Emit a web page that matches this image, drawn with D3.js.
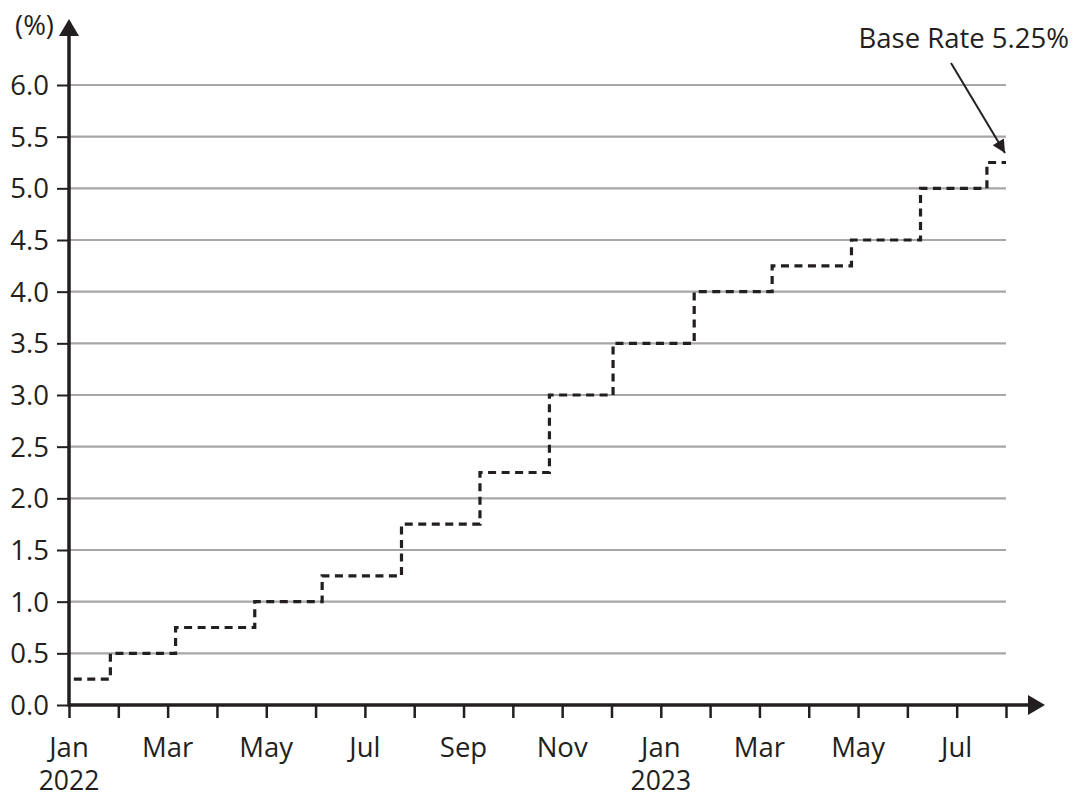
<!DOCTYPE html>
<html>
<head>
<meta charset="utf-8">
<script src="https://cdn.jsdelivr.net/npm/d3@7"></script>
<style>
  body { margin: 0; background: #fff; }
  svg text { font-family: "Open Sans", "Noto Sans", sans-serif; fill: #231f20; }
</style>
</head>
<body>
<div id="svg-container"></div>
<script>
////////////////////////////  Data  ////////////////////////////

// dates when the rate changed, and the rate after each change (%)
const changeDates = [
  "2022-01-04", "2022-01-27", "2022-03-06", "2022-04-24", "2022-06-05",
  "2022-07-24", "2022-09-11", "2022-10-24", "2022-12-02", "2023-01-22",
  "2023-03-09", "2023-04-27", "2023-06-09", "2023-07-20"
];
const rates = [0.25, 0.5, 0.75, 1.0, 1.25, 1.75, 2.25, 3.0, 3.5, 4.0, 4.25, 4.5, 5.0, 5.25];
const endDate = "2023-08-01";

const yTicks = [0, 0.5, 1, 1.5, 2, 2.5, 3, 3.5, 4, 4.5, 5, 5.5, 6];
const monthNames = ["Jan", "Feb", "Mar", "Apr", "May", "Jun", "Jul", "Aug", "Sep", "Oct", "Nov", "Dec"];
const nMonths = 20; // Jan 2022 .. Aug 2023

const annotation = "Base Rate 5.25%";

////////////////////////////  Init  ////////////////////////////

const width = 1076, height = 798;
const ink = "#231f20";
const gridColor = "#a7a7a9";
const fontSize = 27.5;

const svg = d3.select("#svg-container").append("svg")
  .attr("width", width).attr("height", height);

// month index: months since Jan 2022, fractional inside the month
const toMonth = (s) => {
  const d = new Date(s + "T00:00:00");
  const y = d.getFullYear(), m = d.getMonth();
  const days = new Date(y, m + 1, 0).getDate();
  return (y - 2022) * 12 + m + (d.getDate() - 1) / days;
};

const x = d3.scaleLinear().domain([0, 19]).range([69, 1006]);
const y = d3.scaleLinear().domain([0, 6]).range([705, 85]);

// grid
svg.append("g")
  .selectAll("line")
  .data(yTicks.filter((d) => d > 0))
  .join("line")
  .attr("x1", x(0)).attr("x2", x(19))
  .attr("y1", (d) => y(d)).attr("y2", (d) => y(d))
  .attr("stroke", gridColor)
  .attr("stroke-width", 2.2);

// y axis
const yAxis = svg.append("g")
  .attr("transform", `translate(${x(0)},0)`)
  .call(d3.axisLeft(y).tickValues(yTicks).tickSize(12).tickPadding(8).tickFormat(d3.format(".1f")));
yAxis.select(".domain").remove();
yAxis.selectAll(".tick line").attr("stroke", ink).attr("stroke-width", 2);
yAxis.selectAll(".tick text").attr("font-size", fontSize).attr("dy", "0.34em")
  .attr("font-family", "Open Sans").attr("fill", ink);

// x axis
const monthTicks = d3.range(nMonths);
const xAxis = svg.append("g")
  .attr("transform", `translate(0,${y(0)})`)
  .call(d3.axisBottom(x).tickValues(monthTicks).tickSize(13).tickFormat(""));
xAxis.select(".domain").remove();
xAxis.selectAll(".tick line").attr("stroke", ink).attr("stroke-width", 2.5);

// month labels every second month; January also carries the year on a second line
const labelMonths = monthTicks.filter((m) => m % 2 === 0);
const monthLabels = svg.append("g")
  .selectAll("text")
  .data(labelMonths)
  .join("text")
  .attr("x", (d) => x(d))
  .attr("y", 757)
  .attr("text-anchor", "middle")
  .attr("font-size", fontSize);

monthLabels.append("tspan").text((d) => monthNames[d % 12]);
monthLabels.filter((d) => d % 12 === 0)
  .append("tspan")
  .attr("x", (d) => x(d))
  .attr("dy", 33)
  .attr("font-size", 26.5)
  .text((d) => 2022 + d / 12);

// axis lines with arrows
svg.append("line")
  .attr("x1", x(0)).attr("x2", 1032)
  .attr("y1", y(0)).attr("y2", y(0))
  .attr("stroke", ink).attr("stroke-width", 3.5);
svg.append("path")
  .attr("d", `M1045,${y(0)} L1028,${y(0) - 10} L1028,${y(0) + 10} Z`)
  .attr("fill", ink);

svg.append("line")
  .attr("x1", x(0)).attr("x2", x(0))
  .attr("y1", y(0) + 1.5).attr("y2", 33)
  .attr("stroke", ink).attr("stroke-width", 3.5);
svg.append("path")
  .attr("d", `M${x(0)},19 L${x(0) - 10},36 L${x(0) + 10},36 Z`)
  .attr("fill", ink);

svg.append("text")
  .attr("x", 54).attr("y", 35)
  .attr("text-anchor", "end")
  .attr("font-size", fontSize)
  .text("(%)");

// step line
const steps = changeDates.map((d, i) => ({ m: toMonth(d), v: rates[i] }));
steps.push({ m: toMonth(endDate), v: rates[rates.length - 1] });

const stepLine = d3.line()
  .x((d) => x(d.m))
  .y((d) => y(d.v))
  .curve(d3.curveStepAfter);

svg.append("path")
  .datum(steps)
  .attr("d", stepLine)
  .attr("fill", "none")
  .attr("stroke", ink)
  .attr("stroke-width", 3.2)
  .attr("stroke-dasharray", "8,5.5");

// annotation
svg.append("text")
  .attr("x", 1069).attr("y", 48)
  .attr("text-anchor", "end")
  .attr("font-size", fontSize)
  .text(annotation);

svg.append("defs").append("marker")
  .attr("id", "arrow")
  .attr("viewBox", "0 0 10 10")
  .attr("refX", 10).attr("refY", 5)
  .attr("markerWidth", 15).attr("markerHeight", 13)
  .attr("markerUnits", "userSpaceOnUse")
  .attr("orient", "auto")
  .append("path")
  .attr("d", "M0,0 L10,5 L0,10 Z")
  .attr("fill", ink);

const endX = x(toMonth(endDate));
svg.append("line")
  .attr("x1", 951).attr("y1", 63)
  .attr("x2", endX - 1).attr("y2", 153)
  .attr("stroke", ink)
  .attr("stroke-width", 2)
  .attr("marker-end", "url(#arrow)");
</script>
</body>
</html>
